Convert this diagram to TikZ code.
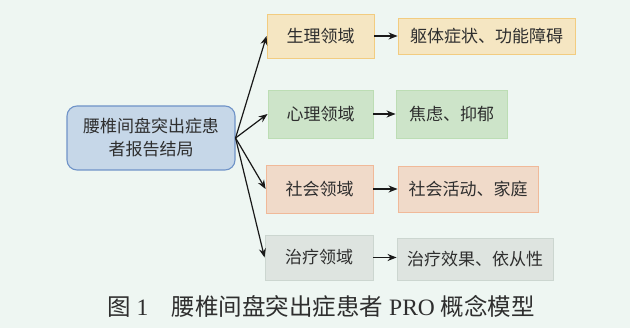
\documentclass[tikz,border=0pt]{standalone}
\usepackage{fontspec}
\setmainfont{Liberation Serif}
\newfontfamily\cjk{Noto Sans CJK SC}
\usetikzlibrary{arrows.meta}
\definecolor{bgc}{HTML}{EEF6F2}
\definecolor{txtc}{HTML}{2E2E2E}
\definecolor{mainfill}{HTML}{C6D7E8}
\definecolor{maindraw}{HTML}{6F93C8}
\definecolor{yfill}{HTML}{F5E6C2}
\definecolor{ydraw}{HTML}{F2CC80}
\definecolor{gfill}{HTML}{CDE4C9}
\definecolor{gdraw}{HTML}{BCDDB4}
\definecolor{ofill}{HTML}{F0DAC9}
\definecolor{odraw}{HTML}{F0B999}
\definecolor{sfill}{HTML}{DEE4E0}
\definecolor{sdraw}{HTML}{CCD6D0}
\tikzset{
  boxbase/.style={rectangle, line width=0.9pt, text=txtc, font=\cjk\fontsize{17}{23}\selectfont, inner sep=0pt, align=center},
  mainbox/.style={boxbase, fill=mainfill, draw=maindraw, rounded corners=10pt, line width=1.1pt},
  ybox/.style={boxbase, fill=yfill, draw=ydraw},
  gbox/.style={boxbase, fill=gfill, draw=gdraw},
  obox/.style={boxbase, fill=ofill, draw=odraw},
  sbox/.style={boxbase, fill=sfill, draw=sdraw},
  conn/.style={line width=1.2pt, draw=black!90, -{Stealth[length=9pt,width=7pt]}}
}
\begin{document}
\begin{tikzpicture}[x=1pt,y=-1pt]
\fill[bgc] (0,0) rectangle (630,328);
\useasboundingbox (0,0) rectangle (630,328);
\node[mainbox, minimum width=168pt, minimum height=64pt] (main) at (151,138) {腰椎间盘突出症患\\者报告结局};
\node[ybox, minimum width=107pt, minimum height=44pt] (sl) at (320.5,36) {生理领域};
\node[ybox, minimum width=177pt, minimum height=36pt] (slr) at (486.5,36) {躯体症状、功能障碍};
\node[gbox, minimum width=105pt, minimum height=48pt] (xl) at (320.5,114) {心理领域};
\node[gbox, minimum width=111pt, minimum height=48pt] (xlr) at (451.5,114) {焦虑、抑郁};
\node[obox, minimum width=107pt, minimum height=48pt] (sh) at (319.5,189) {社会领域};
\node[obox, minimum width=140pt, minimum height=46pt] (shr) at (468,189) {社会活动、家庭};
\node[sbox, minimum width=108pt, minimum height=45pt] (zl) at (319,257.5) {治疗领域};
\node[sbox, minimum width=156pt, minimum height=42pt] (zlr) at (475,259) {治疗效果、依从性};
\draw[conn] (main.east) -- (sl.west);
\draw[conn] (main.east) -- (xl.west);
\draw[conn] (main.east) -- (sh.west);
\draw[conn] (main.east) -- (zl.west);
\draw[conn] (sl.east) -- (slr.west);
\draw[conn] (xl.east) -- (xlr.west);
\draw[conn] (sh.east) -- (shr.west);
\draw[conn] (zl.east) -- (zl.east -| zlr.west);
\node[text=txtc, font=\fontsize{23.5}{26}\selectfont, inner sep=0pt] (cap) at (321,306) {{\cjk 图}~1\hspace{1em}{\cjk 腰椎间盘突出症患者}~PRO~{\cjk 概念模型}};
\end{tikzpicture}
\end{document}
